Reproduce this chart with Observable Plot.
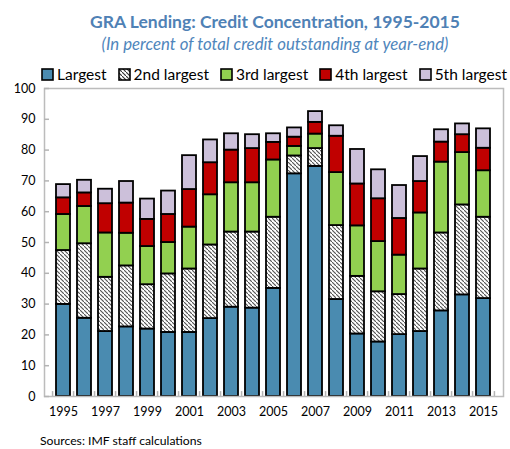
<!DOCTYPE html>
<html><head><meta charset="utf-8">
<script src="https://cdn.jsdelivr.net/npm/d3@7"></script>
<script src="https://cdn.jsdelivr.net/npm/@observablehq/plot@0.6"></script>
<style>
body{margin:0;background:#fff;font-family:Lato,"Open Sans",sans-serif;}
#wrap{position:relative;width:510px;height:449px;overflow:hidden;background:#fff}
.title{position:absolute;left:40px;width:470px;top:11px;text-align:center;font-weight:bold;font-size:17.5px;color:#4F81B5;white-space:nowrap}
.subtitle{position:absolute;left:40px;width:470px;top:33px;text-align:center;font-style:italic;font-size:16.8px;color:#4F86BC;white-space:nowrap}
#legend{position:absolute;left:41px;top:65px;display:flex;align-items:center;font-size:15.5px;color:#000;white-space:nowrap;z-index:2}
#legend .item{display:flex;align-items:center;margin-right:11px}
#legend svg{margin-right:3px}
#chart{position:absolute;left:0;top:78px;z-index:1}
.caption{position:absolute;left:40px;top:433px;font-size:12.2px;color:#000}
</style>
</head><body>
<div id="wrap">
<div class="title">GRA Lending: Credit Concentration, 1995-2015</div>
<div class="subtitle">(In percent of total credit outstanding at year-end)</div>
<div id="chart"></div>
<div id="legend"></div>
<div class="caption">Sources: IMF staff calculations</div>
</div>
<script>
const years = [1995,1996,1997,1998,1999,2000,2001,2002,2003,2004,2005,2006,2007,2008,2009,2010,2011,2012,2013,2014,2015];
const seriesNames = ["Largest","2nd largest","3rd largest","4th largest","5th largest"];
const largest = [29.9,25.4,21.1,22.6,21.9,20.8,20.8,25.3,29.0,28.7,35.1,72.3,74.7,31.5,20.3,17.7,20.1,21.1,27.8,33.0,31.8];
const second  = [17.5,24.2,17.6,19.8,14.4,19.0,20.6,23.9,24.4,24.7,23.1,5.8,5.8,24.0,18.7,16.3,13.0,20.3,25.3,29.2,26.4];
const third   = [11.7,12.1,14.4,10.6,12.4,10.2,13.6,16.3,16.0,16.0,18.6,3.1,4.7,17.2,16.4,16.3,12.8,18.2,23.0,17.0,15.1];
const fourth  = [5.4,4.4,9.5,9.8,8.8,9.1,12.2,10.4,10.6,11.1,5.7,3.0,3.8,11.8,13.6,13.9,11.9,10.2,6.5,5.8,7.3];
const fifth   = [4.3,4.1,4.7,7.0,6.6,7.6,11.0,7.4,5.3,4.5,2.8,3.0,3.5,3.4,11.2,9.4,10.7,8.1,4.0,3.5,6.3];
const yTicks = [0,10,20,30,40,50,60,70,80,90,100];
const xTickLabels = [1995,1997,1999,2001,2003,2005,2007,2009,2011,2013,2015];
const colors = ["#4A8BB0","url(#hatch)","#92D050","#C00000","#CCC0DA"];

const valuesBySeries = [largest, second, third, fourth, fifth];
const data = [];
years.forEach((yr, i) => {
  seriesNames.forEach((s, j) => data.push({year: yr, series: s, value: valuesBySeries[j][i]}));
});

const chart = Plot.plot({
  width: 510,
  height: 342,
  marginLeft: 44,
  marginRight: 7,
  marginTop: 10,
  marginBottom: 24,
  style: {fontFamily: "Lato, 'Open Sans', sans-serif", fontSize: "12.5px", color: "#000", background: "transparent", overflow: "visible"},
  x: {type: "band", domain: years, paddingInner: 0.31, paddingOuter: 0.155, label: null},
  y: {domain: [0, 100], label: null},
  color: {domain: seriesNames, range: colors},
  marks: [
    Plot.barY(data, {x: "year", y: "value", fill: "series", stroke: "#000", strokeWidth: 1.8, order: seriesNames}),
    Plot.ruleX(years, {x: d => d, y1: 0, y2: 1.6, dx: -10.93, stroke: "#b4b4b4", strokeWidth: 1.5}),
    Plot.ruleX([years[years.length-1]], {x: d => d, y1: 0, y2: 1.6, dx: 10.93, stroke: "#b4b4b4", strokeWidth: 1.5}),
    Plot.frame({stroke: "#bcbcbc", strokeWidth: 1.5}),
    Plot.axisY({ticks: yTicks, tickSize: 0, tickPadding: 9, fontSize: 12.5, label: null}),
    Plot.axisY({ticks: yTicks, tickSize: 5, dx: 5, tickFormat: () => "", stroke: "#b4b4b4", strokeWidth: 1.5, label: null}),
    Plot.axisX({ticks: xTickLabels, tickFormat: d => String(d), tickSize: 0, tickPadding: 11, fontSize: 12.5, label: null})
  ]
});

const defs = document.createElementNS("http://www.w3.org/2000/svg", "defs");
defs.innerHTML = `<pattern id="hatch" patternUnits="userSpaceOnUse" width="4" height="4">
  <rect width="4" height="4" fill="#fff"/>
  <path d="M-1,-1 L1,1 M0,0 L4,4 M3,3 L5,5" stroke="#555" stroke-width="1.1"/>
</pattern>`;
chart.insertBefore(defs, chart.firstChild);
document.getElementById("chart").appendChild(chart);

const legend = document.getElementById("legend");
seriesNames.forEach((s, j) => {
  const item = document.createElement("div");
  item.className = "item";
  const fill = colors[j] === "url(#hatch)" ? "url(#hatchL)" : colors[j];
  item.innerHTML = `<svg width="13" height="13"><defs><pattern id="hatchL" patternUnits="userSpaceOnUse" width="4" height="4"><rect width="4" height="4" fill="#fff"/><path d="M-1,-1 L1,1 M0,0 L4,4 M3,3 L5,5" stroke="#333" stroke-width="1.1"/></pattern></defs><rect x="1" y="1" width="11" height="11" fill="${fill}" stroke="#000" stroke-width="1.6"/></svg><span>${s}</span>`;
  legend.appendChild(item);
});
</script>
</body></html>
